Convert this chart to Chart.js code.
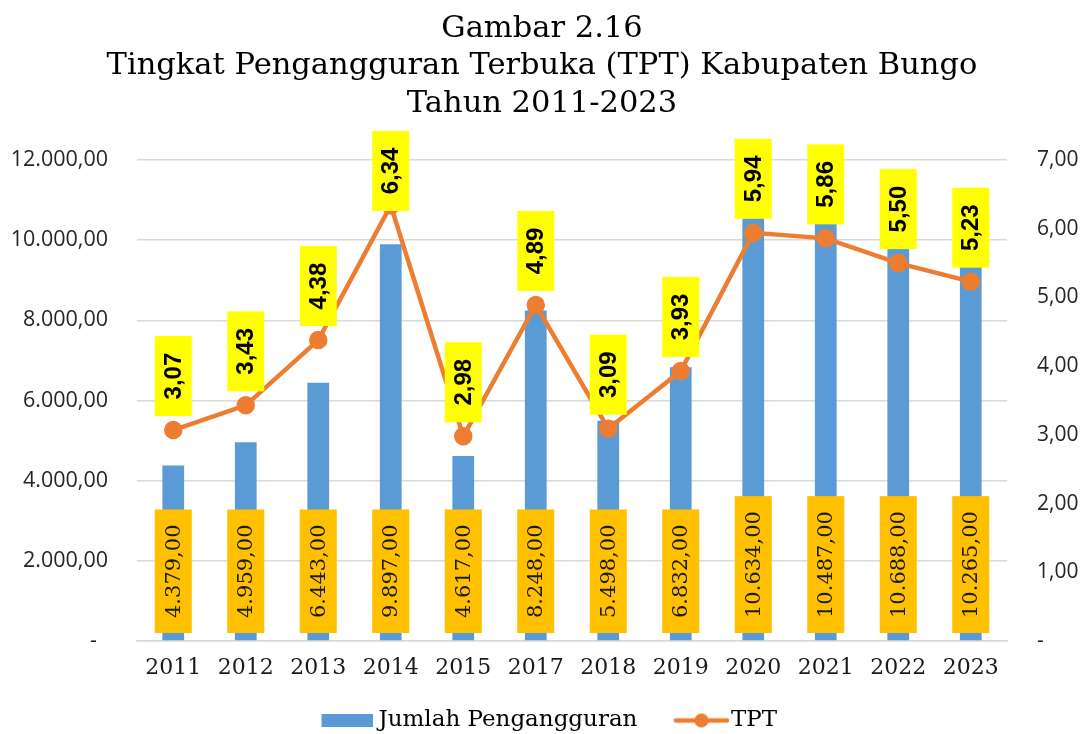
<!DOCTYPE html>
<html>
<head>
<meta charset="utf-8">
<title>TPT Kabupaten Bungo</title>
<script src="https://cdn.jsdelivr.net/npm/chart.js@4.4.0/dist/chart.umd.min.js"></script>
<style>
  html, body { margin: 0; padding: 0; background: #fff; }
  #wrap { width: 1084px; height: 734px; position: relative; }
</style>
</head>
<body>
<div id="wrap"><canvas id="tptChart"></canvas></div>
<script>
// ======================================================
// DATA
// ======================================================
const years = ["2011", "2012", "2013", "2014", "2015", "2017", "2018", "2019", "2020", "2021", "2022", "2023"];
const jumlahPengangguran = [4379, 4959, 6443, 9897, 4617, 8248, 5498, 6832, 10634, 10487, 10688, 10265];
const tptValues = [3.07, 3.43, 4.38, 6.34, 2.98, 4.89, 3.09, 3.93, 5.94, 5.86, 5.50, 5.23];
const titleLines = ["Gambar 2.16", "Tingkat Pengangguran Terbuka (TPT) Kabupaten Bungo", "Tahun 2011-2023"];

const BLUE = "#5b9bd5";
const ORANGE = "#ed7d31";
const SERIF = "'DejaVu Serif', 'Liberation Serif', serif";
const SANS = "'Open Sans', 'Liberation Sans', sans-serif";

const LEGEND_FONT = 23;
const LEGEND_BOX = 82;

// id-ID style number: 10.634,00
function fmtID(v, dec) {
  const parts = Number(v).toFixed(dec).split(".");
  const intPart = parts[0].replace(/\B(?=(\d{3})+(?!\d))/g, ".");
  return parts[1] ? intPart + "," + parts[1] : intPart;
}

// ======================================================
// LEGEND ICONS (icon sits at the right side, close to text)
// ======================================================
function makeBarIcon() {
  const c = document.createElement("canvas");
  c.width = 2 * (LEGEND_BOX / 2 + LEGEND_FONT / 2 - 5);
  c.height = 13;
  const g = c.getContext("2d");
  g.fillStyle = BLUE;
  g.fillRect(c.width - 52, 0, 52, 13);
  return c;
}

function makeLineIcon() {
  const c = document.createElement("canvas");
  c.width = 2 * (LEGEND_BOX / 2 + LEGEND_FONT / 2 - 1);
  c.height = 16;
  const g = c.getContext("2d");
  const x0 = c.width - 57;
  g.strokeStyle = ORANGE;
  g.lineWidth = 4.5;
  g.lineCap = "round";
  g.beginPath();
  g.moveTo(x0 + 3, 8); g.lineTo(c.width - 3, 8);
  g.stroke();
  g.fillStyle = ORANGE;
  g.beginPath();
  g.arc(x0 + 28.5, 8, 7, 0, Math.PI * 2);
  g.fill();
  return c;
}

// ======================================================
// DATA LABEL PLUGIN
// ======================================================
const labelPlugin = {
  id: "boxLabels",
  afterDatasetsDraw(chart) {
    const ctx = chart.ctx;
    const yZero = chart.scales.y.getPixelForValue(0);

    // bar labels (bottom, orange box)
    const barMeta = chart.getDatasetMeta(0);
    ctx.save();
    ctx.font = "21px " + SERIF;
    barMeta.data.forEach((el, i) => {
      const txt = fmtID(jumlahPengangguran[i], 2);
      const w = 37;
      const h = ctx.measureText(txt).width + 30;
      const bottom = yZero - 8;
      const top = bottom - h;
      ctx.fillStyle = "#ffc000";
      ctx.fillRect(el.x - w / 2, top, w, h);
      ctx.save();
      ctx.translate(el.x, top + h / 2);
      ctx.rotate(-Math.PI / 2);
      ctx.fillStyle = "#1a1a1a";
      ctx.textAlign = "center";
      ctx.textBaseline = "middle";
      ctx.fillText(txt, 0, 1);
      ctx.restore();
    });
    ctx.restore();

    // line labels (above point, yellow box)
    const lineMeta = chart.getDatasetMeta(1);
    ctx.save();
    ctx.font = "bold 24px 'Liberation Sans', Arial, sans-serif";
    lineMeta.data.forEach((el, i) => {
      const txt = fmtID(tptValues[i], 2);
      const w = 37;
      const h = 80;
      let top = el.y - 14 - h;
      if (top < 131) top = 131;
      ctx.fillStyle = "#ffff00";
      ctx.fillRect(el.x - w / 2, top, w, h);
      ctx.save();
      ctx.translate(el.x, top + h / 2);
      ctx.rotate(-Math.PI / 2);
      ctx.fillStyle = "#000";
      ctx.textAlign = "center";
      ctx.textBaseline = "middle";
      ctx.fillText(txt, 0, 1);
      ctx.restore();
    });
    ctx.restore();
  }
};

// ======================================================
// CHART
// ======================================================
const barIcon = makeBarIcon();
const lineIcon = makeLineIcon();

new Chart(document.getElementById("tptChart"), {
  data: {
    labels: years,
    datasets: [
      {
        type: "bar",
        label: "Jumlah Pengangguran",
        data: jumlahPengangguran,
        backgroundColor: BLUE,
        yAxisID: "y",
        order: 1,
        barPercentage: 0.3,
        categoryPercentage: 1
      },
      {
        type: "line",
        label: "TPT",
        data: tptValues,
        borderColor: ORANGE,
        backgroundColor: ORANGE,
        borderWidth: 4.5,
        pointRadius: 7,
        pointBackgroundColor: ORANGE,
        pointBorderColor: ORANGE,
        tension: 0,
        yAxisID: "y1",
        order: 0
      }
    ]
  },
  options: {
    responsive: true,
    maintainAspectRatio: false,
    animation: false,
    layout: { padding: { top: 0, left: 0, right: 0, bottom: -8 } },
    scales: {
      x: {
        grid: { display: false, drawTicks: false },
        border: { display: true, color: "#d9d9d9", width: 1.5 },
        ticks: {
          padding: 14,
          color: "#1a1a1a",
          font: { family: SERIF, size: 22 },
          maxRotation: 0
        },
        afterFit: s => { s.height = 68; }
      },
      y: {
        position: "left",
        min: 0,
        max: 12000,
        grid: { color: "#d9d9d9", lineWidth: 1.5, drawTicks: false },
        border: { display: false },
        ticks: {
          stepSize: 2000,
          padding: 29,
          color: "#262626",
          font: { family: SANS, size: 21.5 },
          callback: v => v === 0 ? "-  " : fmtID(v, 2)
        },
        afterFit: s => { s.width = 137; }
      },
      y1: {
        position: "right",
        min: 0,
        max: 7,
        grid: { display: false, drawTicks: false },
        border: { display: false },
        ticks: {
          stepSize: 1,
          padding: 30,
          color: "#262626",
          font: { family: SANS, size: 21 },
          callback: v => v === 0 ? "-" : fmtID(v, 2)
        },
        afterFit: s => { s.width = 77; }
      }
    },
    plugins: {
      title: {
        display: true,
        text: titleLines,
        color: "#000",
        font: { family: SERIF, size: 30.5, weight: "normal", lineHeight: 1.23 },
        padding: { top: 10, bottom: 37.5 }
      },
      legend: {
        position: "bottom",
        labels: {
          usePointStyle: true,
          pointStyleWidth: LEGEND_BOX,
          padding: 0,
          color: "#1a1a1a",
          font: { family: SERIF, size: LEGEND_FONT },
          generateLabels: () => [
            { text: "Jumlah Pengangguran", pointStyle: barIcon, fillStyle: BLUE, strokeStyle: BLUE, lineWidth: 0, datasetIndex: 0, hidden: false },
            { text: "TPT   ", pointStyle: lineIcon, fillStyle: ORANGE, strokeStyle: ORANGE, lineWidth: 0, datasetIndex: 1, hidden: false }
          ]
        }
      },
      tooltip: { enabled: false }
    }
  },
  plugins: [labelPlugin]
});
</script>
</body>
</html>
